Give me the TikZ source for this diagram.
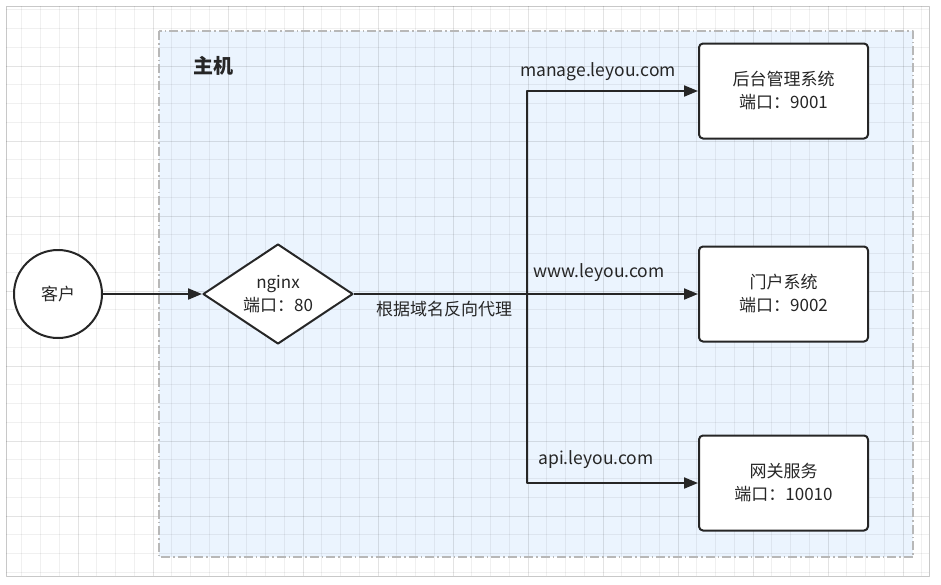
\documentclass[tikz,border=0pt]{standalone}
\usepackage{fontspec}
\setmainfont{Noto Sans CJK SC}
\usetikzlibrary{arrows.meta,shapes.geometric}

\definecolor{ink}{HTML}{262626}
\definecolor{hostfill}{HTML}{EBF4FE}
\definecolor{hostedge}{HTML}{B8B8B8}
\definecolor{frameedge}{HTML}{C8C8C8}

\begin{document}
\begin{tikzpicture}[x=1pt, y=-1pt, line join=round,
  every node/.style={text=ink, align=center, inner sep=0pt, font=\fontsize{17}{23}\selectfont},
  svcbox/.style={draw=ink, line width=2pt, fill=white, rounded corners=4pt,
                 minimum width=169pt, minimum height=95pt},
  urllabel/.style={font=\fontsize{17.5}{20}\selectfont}]
  % 箭头: 实心三角, 深灰
  \def\arr{-{Triangle[width=11pt,length=14pt]}}

  % ════ 画布边框 ════
  \fill[white] (0,0) rectangle (941,584);
  \draw[frameedge, line width=1pt] (6,6) rectangle (929,576);

  % ════ 主机容器（浅蓝底）════
  \fill[hostfill] (159,31) rectangle (913,557);

  % ════ 背景网格（细格 18.75, 粗格 75）════
  \begin{scope}
    \clip (6,6) rectangle (929,576);
    \foreach \k in {0,...,49}{%
      \pgfmathsetmacro\gx{3+18.75*\k}%
      \draw[black, opacity=0.06, line width=0.8pt] (\gx,6) -- (\gx,576);}
    \foreach \k in {0,...,31}{%
      \pgfmathsetmacro\gy{-9+18.75*\k}%
      \draw[black, opacity=0.06, line width=0.8pt] (6,\gy) -- (929,\gy);}
    \foreach \k in {0,...,12}{%
      \pgfmathsetmacro\gx{3+75*\k}%
      \draw[black, opacity=0.05, line width=0.8pt] (\gx,6) -- (\gx,576);}
    \foreach \k in {0,...,8}{%
      \pgfmathsetmacro\gy{-9+75*\k}%
      \draw[black, opacity=0.05, line width=0.8pt] (6,\gy) -- (929,\gy);}
  \end{scope}

  % 容器的点划线边界
  \draw[hostedge, line width=1.6pt, dash pattern=on 9pt off 3pt on 1.5pt off 3pt]
    (159,31) rectangle (913,557);
  \node[anchor=center, font=\fontsize{20}{24}\selectfont\bfseries] (host) at (213,66) {主机};

  % ════ 客户 / nginx ════
  \node[circle, draw=ink, line width=2pt, fill=white, minimum size=88pt] (client) at (58,294) {客户};
  \node[diamond, draw=ink, line width=2pt, fill=white, minimum width=150pt, minimum height=100pt,
        shape aspect=1.5] (nginx) at (278,294) {nginx\\端口：80};

  % ════ 三个服务 ════
  \node[svcbox] (admin)   at (783.5,91)  {后台管理系统\\端口：9001};
  \node[svcbox] (portal)  at (783.5,294) {门户系统\\端口：9002};
  \node[svcbox] (gateway) at (783.5,483) {网关服务\\端口：10010};

  % ════ 连线 ════
  \coordinate (split) at (527,294);
  \draw[ink, line width=2pt, \arr] (client.east) -- (nginx.west);
  \draw[ink, line width=2pt, \arr] (nginx.east) -- (portal.west);
  \draw[ink, line width=2pt, \arr] (split) |- (admin.west);
  \draw[ink, line width=2pt, \arr] (split) |- (gateway.west);

  % ════ 标签 ════
  \node[urllabel] (urlAdmin)   at (598,72)  {manage.leyou.com};
  \node[urllabel] (urlPortal)  at (599,273) {www.leyou.com};
  \node[urllabel] (urlGateway) at (596,460) {api.leyou.com};
  \node (proxyNote) at (444,309) {根据域名反向代理};

  % 钉死画布
  \path[use as bounding box] (0,0) rectangle (941,584);
\end{tikzpicture}
\end{document}
